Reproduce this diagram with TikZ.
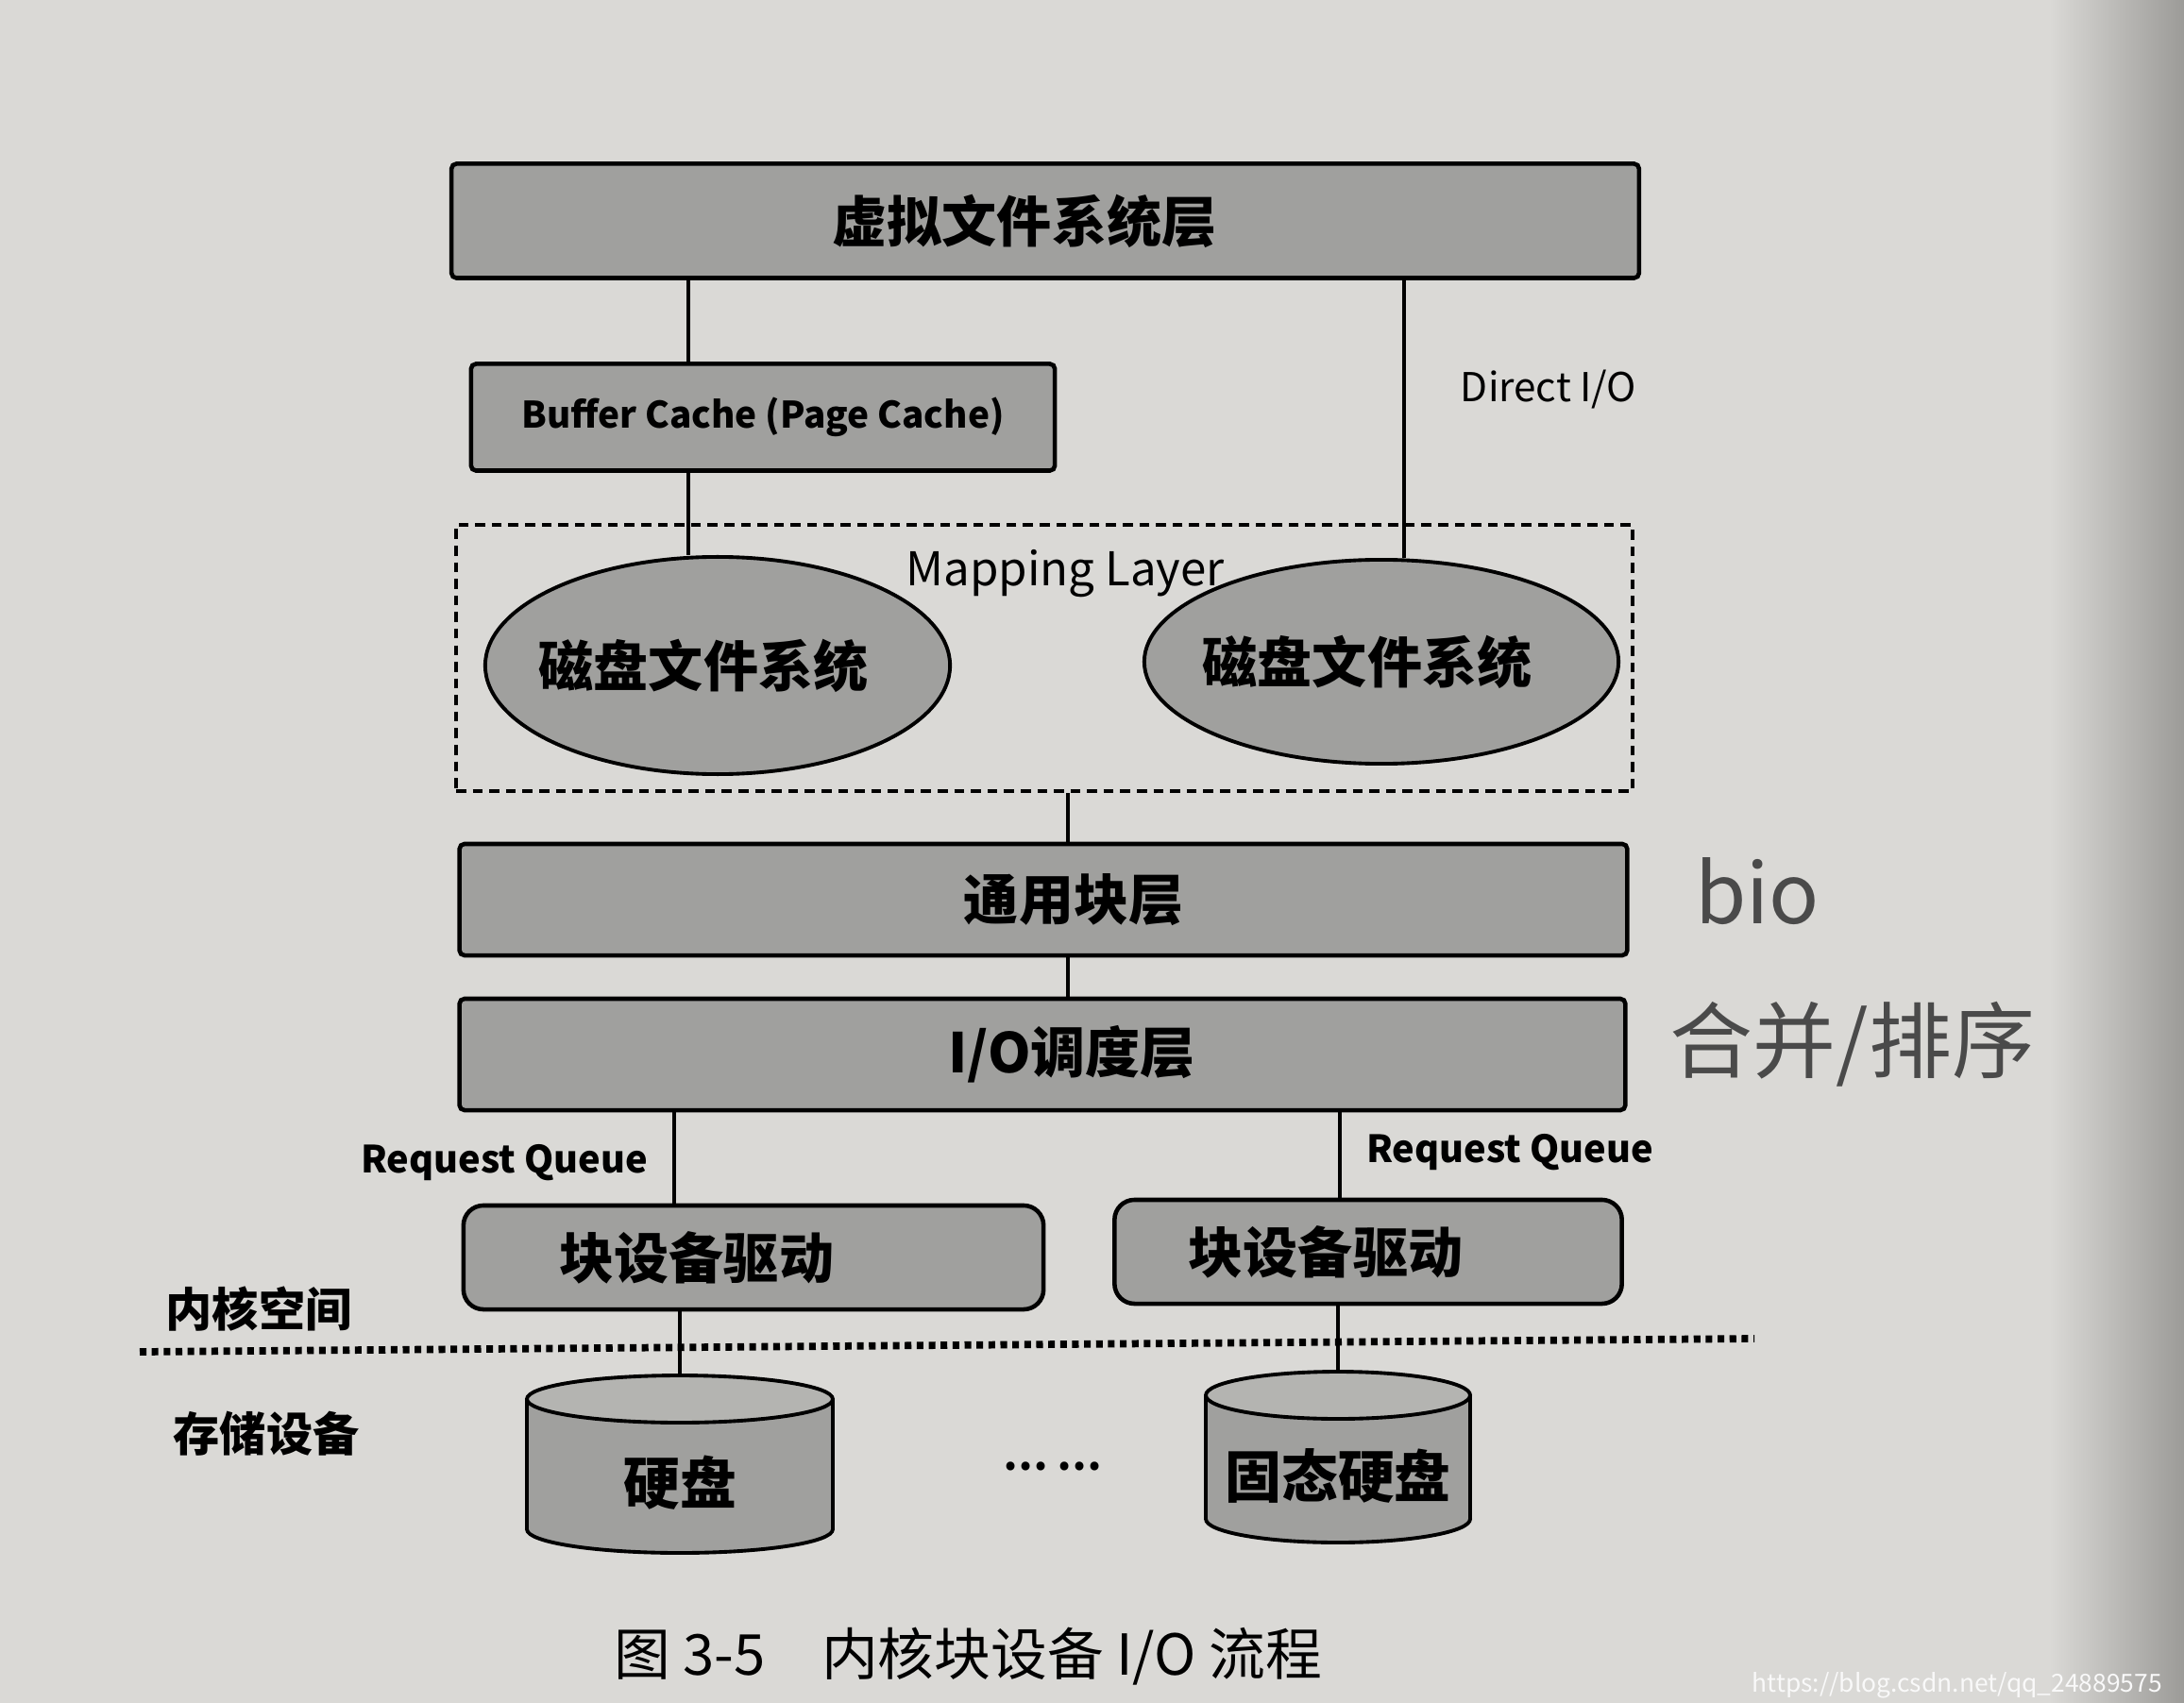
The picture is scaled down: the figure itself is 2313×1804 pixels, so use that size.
\documentclass[tikz,border=0pt]{standalone}
\usepackage{fontspec}
\setmainfont{Noto Sans CJK SC}
\usetikzlibrary{shapes.geometric}
\definecolor{paper}{HTML}{DAD9D6}
\definecolor{paperedge}{HTML}{9C9B98}
\definecolor{boxgray}{HTML}{A0A09E}
\definecolor{drumtop}{HTML}{B4B4B1}
\definecolor{inkgray}{HTML}{4A4A4A}
\tikzset{
  layerbox/.style={draw, line width=1.3pt, fill=boxgray, rounded corners=1.5pt,
    inner sep=0pt, font=\fontsize{16.5}{18}\selectfont\bfseries},
  driverbox/.style={layerbox, rounded corners=6pt},
  fsys/.style={ellipse, draw, line width=1.1pt, fill=boxgray, inner sep=0pt,
    font=\fontsize{16.5}{18}\selectfont\bfseries},
  diskbox/.style={inner sep=0pt},
  disklbl/.style={font=\fontsize{17}{19}\selectfont\bfseries, yshift=-0.2cm},
  drumline/.style={line width=1.1pt},
  lbl/.style={font=\fontsize{12}{14}\selectfont},
  rqlbl/.style={font=\fontsize{11.3}{13}\selectfont\bfseries},
  sidelbl/.style={font=\fontsize{14}{16}\selectfont\bfseries},
  link/.style={line width=0.9pt},
  hand/.style={text=inkgray, font=\fontsize{25}{27}\selectfont},
}
% disk drum: centre x, top y, half width, bottom y
\newcommand{\drum}[4]{%
  \draw[drumline, fill=boxgray] (#1,#4-25) ellipse [x radius=#3, y radius=25];
  \fill[boxgray] (#1-#3,#2+25) rectangle (#1+#3,#4-25);
  \draw[drumline] (#1-#3,#2+25) -- (#1-#3,#4-25) (#1+#3,#2+25) -- (#1+#3,#4-25);
  \draw[drumline, fill=drumtop] (#1,#2+25) ellipse [x radius=#3, y radius=25];
}
\begin{document}
\begin{tikzpicture}[x=0.01cm, y=-0.01cm]
\useasboundingbox (0,0) rectangle (2313,1804);
\fill[paper] (0,0) rectangle (2313,1804);
\shade[left color=paper, right color=paperedge] (2170,0) rectangle (2313,1804);
% x positions of the vertical links
\coordinate (xl) at (729,0);
\coordinate (xr) at (1487,0);
\coordinate (xm) at (1131,0);
\coordinate (xa) at (714,0);
\coordinate (xb) at (1419,0);

% layers
\node[layerbox, minimum width=12.57cm, minimum height=1.21cm] (vfs) at (1107,234) {虚拟文件系统层\hspace*{0.44cm}};
\node[layerbox, minimum width=6.18cm, minimum height=1.13cm,
  font=\fontsize{11}{13}\selectfont\bfseries] (bufc) at (808,442) {Buffer Cache (Page Cache)};
\node[lbl] (dio) at (1640,413) {Direct I/O};
\node[draw, line width=1pt, dash pattern=on 3pt off 2pt,
  minimum width=12.45cm, minimum height=2.82cm] (maplayer) at (1106,697) {};
\node[fsys, minimum width=4.92cm, minimum height=2.30cm] (fsa) at (760,705) {\hspace*{-0.3cm}磁盘文件系统};
\node[fsys, minimum width=5.02cm, minimum height=2.16cm] (fsb) at (1463,701) {\hspace*{-0.3cm}磁盘文件系统};
\node[font=\fontsize{14}{16}\selectfont] (maptxt) at (1128,608) {Mapping Layer};
\node[layerbox, minimum width=12.36cm, minimum height=1.18cm] (gbl) at (1105,953) {\hspace*{0.64cm}通用块层};
\node[layerbox, minimum width=12.34cm, minimum height=1.18cm] (iosch) at (1104,1117) {\hspace*{0.62cm}I/O调度层};
\node[rqlbl] (rqa) at (534,1232) {Request Queue};
\node[rqlbl] (rqb) at (1599,1221) {Request Queue};
\node[driverbox, minimum width=6.14cm, minimum height=1.10cm] (drva) at (798,1332) {块设备驱动\hspace*{1.2cm}};
\node[driverbox, minimum width=5.37cm, minimum height=1.10cm] (drvb) at (1449,1326) {块设备驱动\hspace*{0.9cm}};

% kernel / storage boundary
\node[sidelbl] (kspace) at (274,1387) {内核空间};
\node[sidelbl] (storage) at (282,1519) {存储设备};
\coordinate (sepl) at (148,1432);
\coordinate (sepr) at (1858,1418);
\draw[line width=2.2pt, dash pattern=on 2pt off 1.6pt] (sepl) -- (sepr);

% devices
\drum{720}{1457}{162}{1645}
\drum{1417}{1453}{140}{1634}
\node[diskbox, minimum width=3.24cm, minimum height=1.88cm,
  label={[disklbl]center:硬盘}] (hdd) at (720,1551) {};
\node[diskbox, minimum width=2.80cm, minimum height=1.81cm,
  label={[disklbl]center:固态硬盘}] (ssd) at (1417,1543.5) {};
\node[font=\fontsize{12}{14}\selectfont\bfseries] (more) at (1115,1553) {… …};

% links
\draw[link] (vfs.south -| xl) -- (bufc.north -| xl);
\draw[link] (bufc.south -| xl) -- (fsa.north -| xl);
\draw[link] (vfs.south -| xr) -- (fsb.north -| xr);
\draw[link] (maplayer.south -| xm) -- (gbl.north -| xm);
\draw[link] (gbl.south -| xm) -- (iosch.north -| xm);
\draw[link] (iosch.south -| xa) -- (drva.north -| xa);
\draw[link] (iosch.south -| xb) -- (drvb.north -| xb);
\draw[link] (drva.south -| hdd.north) -- (hdd.north);
\draw[link] (drvb.south -| ssd.north) -- (ssd.north);

% caption and notes
\node[font=\fontsize{17}{19}\selectfont] (caption) at (1025,1755) {图 3-5\quad 内核块设备 I/O 流程};
\node[hand] (bio) at (1861,944) {bio};
\node[hand] (merge) at (1962,1106) {合并/排序};
\node[anchor=east, text=white!85!paper, font=\fontsize{7.5}{9}\selectfont] (wmark) at (2302,1785) {https://blog.csdn.net/qq\_24889575};
\end{tikzpicture}
\end{document}
